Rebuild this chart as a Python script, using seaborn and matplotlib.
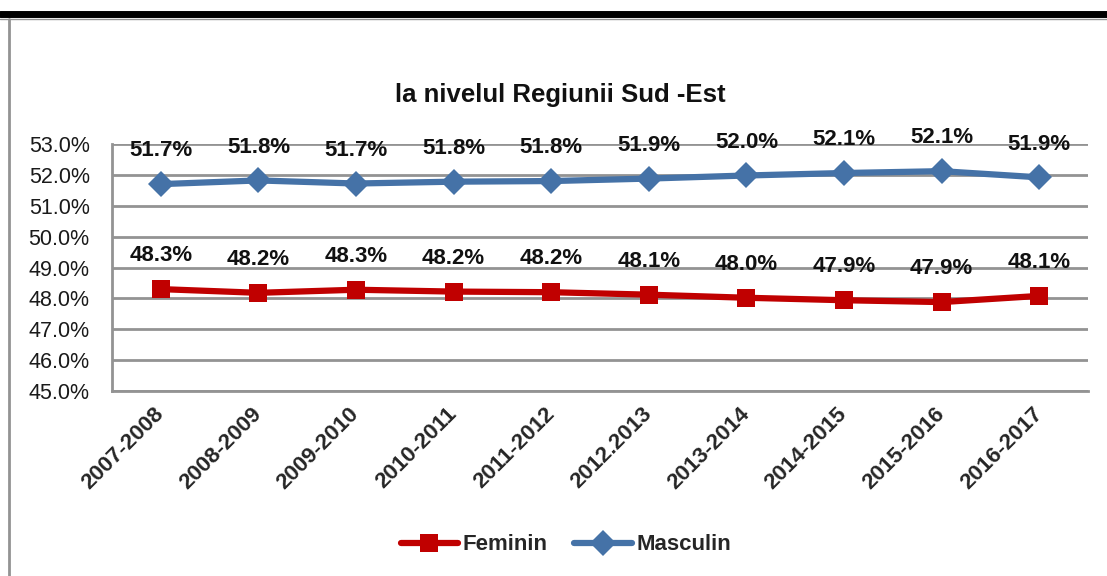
import matplotlib
matplotlib.use("Agg")
import matplotlib.pyplot as plt
import seaborn as sns
import pandas as pd
from matplotlib.lines import Line2D

years = ["2007-2008", "2008-2009", "2009-2010", "2010-2011", "2011-2012",
         "2012.2013", "2013-2014", "2014-2015", "2015-2016", "2016-2017"]
feminin = [48.30, 48.18, 48.28, 48.22, 48.20, 48.12, 48.02, 47.94, 47.88, 48.08]
masculin = [51.70, 51.82, 51.72, 51.78, 51.80, 51.88, 51.98, 52.06, 52.12, 51.92]
series_names = ["Feminin", "Masculin"]
title = "la nivelul Regiunii Sud -Est"

df = pd.DataFrame({
    "An": years * 2,
    "Valoare": feminin + masculin,
    "Sex": [series_names[0]] * len(years) + [series_names[1]] * len(years),
})

sns.set_theme(style="white")
plt.rcParams["font.family"] = ["Liberation Sans", "DejaVu Sans"]

RED = "#C00000"
BLUE = "#4572A7"
GRID = "#939393"

fig = plt.figure(figsize=(11.07, 5.76), dpi=100)
ax = fig.add_axes([112 / 1107, 1 - 391 / 576, (1088 - 112) / 1107, (391 - 144) / 576])

sns.lineplot(data=df, x="An", y="Valoare", hue="Sex", style="Sex",
             palette={"Feminin": RED, "Masculin": BLUE},
             markers={"Feminin": "s", "Masculin": "D"}, dashes=False,
             linewidth=4.5, markersize=13, markeredgewidth=0, sort=False,
             legend=False, ax=ax)

ax.set_xlim(-0.5, len(years) - 0.5)
ax.set_ylim(45, 53)
ax.set_yticks([45, 46, 47, 48, 49, 50, 51, 52, 53])
ax.set_yticklabels([f"{v:.1f}%" for v in ax.get_yticks()], fontsize=15.5)
ax.yaxis.grid(True, color=GRID, linewidth=2)
ax.set_axisbelow(True)
ax.set_xlabel("")
ax.set_ylabel("")
for s in ["top", "right"]:
    ax.spines[s].set_visible(False)
for s in ["left", "bottom"]:
    ax.spines[s].set_color(GRID)
    ax.spines[s].set_linewidth(2)
ax.tick_params(axis="y", length=0, pad=16, colors="#1a1a1a")
ax.tick_params(axis="x", length=0, pad=14)
ax.set_xticks(range(len(years)))
ax.set_xticklabels(years, rotation=45, ha="right", rotation_mode="anchor",
                   fontsize=16, fontweight="bold", va="center")

for vals in (feminin, masculin):
    for i, v in enumerate(vals):
        ax.annotate(f"{v:.1f}%", (i, v), xytext=(0, 24), textcoords="offset points",
                    ha="center", va="center", fontsize=16, fontweight="bold",
                    color="#111111", annotation_clip=False)

fig.text(560 / 1107, 1 - 95 / 576, title, ha="center", va="center",
         fontsize=18.5, fontweight="bold", color="#111111")

handles = [
    Line2D([], [], color=RED, marker="s", linewidth=4.5, markersize=13, markeredgewidth=0,
           solid_capstyle="round"),
    Line2D([], [], color=BLUE, marker="D", linewidth=4.5, markersize=13, markeredgewidth=0,
           solid_capstyle="round"),
]
leg = fig.legend(handles, series_names, loc="center", bbox_to_anchor=(566 / 1107, 1 - 545 / 576),
                 ncol=2, frameon=False, handlelength=2.6, columnspacing=1.2, handletextpad=0.2,
                 prop={"size": 16, "weight": "bold"})

# decorative frame: thick top bar, thin grey line, left border
fig.add_artist(Line2D([0, 1], [1 - 14 / 576, 1 - 14 / 576], color="black", linewidth=5,
                      transform=fig.transFigure))
fig.add_artist(Line2D([0, 1], [1 - 18.5 / 576, 1 - 18.5 / 576], color=GRID, linewidth=1,
                      transform=fig.transFigure))
fig.add_artist(Line2D([9 / 1107, 9 / 1107], [0, 1 - 18.5 / 576], color=GRID, linewidth=2,
                      transform=fig.transFigure))

fig.savefig("out.png", dpi=100)
